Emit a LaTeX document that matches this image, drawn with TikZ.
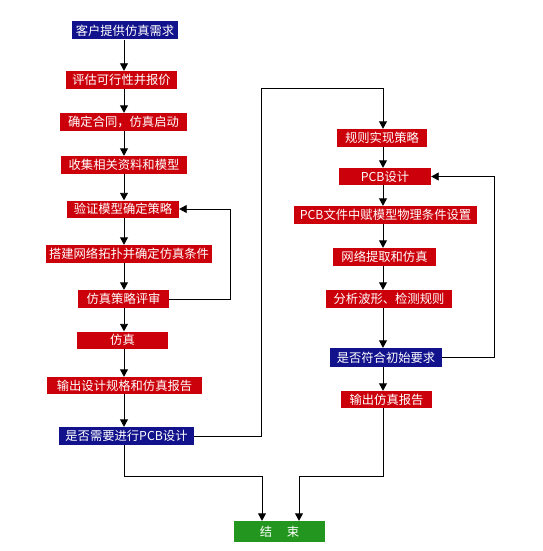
\documentclass[tikz,border=0pt]{standalone}
\usepackage{fontspec}
\setmainfont{Noto Sans CJK SC}
\usetikzlibrary{arrows.meta}
\definecolor{boxred}{RGB}{204,0,10}
\definecolor{boxblue}{RGB}{18,18,140}
\definecolor{boxgreen}{RGB}{34,150,30}
\tikzset{
  box/.style={draw=none, text=white, inner sep=0pt, minimum height=18pt, font=\fontsize{12.3}{13}\selectfont},
  redbox/.style={box, fill=boxred},
  bluebox/.style={box, fill=boxblue},
  greenbox/.style={box, fill=boxgreen},
  arr/.style={draw=black, line width=0.9pt, -{Triangle[width=8pt,length=7.5pt]}},
  ln/.style={draw=black, line width=0.9pt}
}
\begin{document}
\begin{tikzpicture}[x=1pt,y=-1pt]
\useasboundingbox[fill=white] (0,0) rectangle (542,551);
% left column
\node[bluebox, minimum width=106pt] (n1) at (125,30.5) {客户提供仿真需求};
\node[redbox, minimum width=111pt] (n2) at (121.5,80) {评估可行性并报价};
\node[redbox, minimum width=127pt] (n3) at (123.5,122) {确定合同，仿真启动};
\node[redbox, minimum width=126pt] (n4) at (124,165) {收集相关资料和模型};
\node[redbox, minimum width=112pt, minimum height=17pt] (n5) at (123,209) {验证模型确定策略};
\node[redbox, minimum width=166pt] (n6) at (129,254) {搭建网络拓扑并确定仿真条件};
\node[redbox, minimum width=91pt] (n7) at (123.5,299) {仿真策略评审};
\node[redbox, minimum width=91pt, minimum height=17pt] (n8) at (122.5,340) {仿真};
\node[redbox, minimum width=155pt, minimum height=17pt] (n9) at (124.5,385.5) {输出设计规格和仿真报告};
\node[bluebox, minimum width=135pt] (n10) at (126.5,436) {是否需要进行PCB设计};
% right column
\node[redbox, minimum width=90pt] (r1) at (382,138) {规则实现策略};
\node[redbox, minimum width=92pt, minimum height=17pt] (r2) at (385,176.5) {PCB设计};
\node[redbox, minimum width=183pt] (r3) at (385.5,215) {PCB文件中赋模型物理条件设置};
\node[redbox, minimum width=103pt] (r4) at (384.5,257) {网络提取和仿真};
\node[redbox, minimum width=126pt] (r5) at (389,299) {分析波形、检测规则};
\node[bluebox, minimum width=112pt, minimum height=19pt] (r6) at (386,357.5) {是否符合初始要求};
\node[redbox, minimum width=91pt, minimum height=17pt] (r7) at (386.5,399.5) {输出仿真报告};
% end
\node[greenbox, minimum width=91pt, minimum height=21pt] (e) at (279.5,531.5) {结\hspace{1.2em}束};
% helper coordinates
\coordinate (cl) at (124,0);
\coordinate (cr) at (383,0);
\coordinate (lpx) at (230,0);
\coordinate (tpx) at (261,88);
\coordinate (rpx) at (494,0);
\coordinate (bl) at (124,476);
\coordinate (br) at (383,476);
\coordinate (el) at (262,476);
\coordinate (er) at (299,476);
% left column arrows
\foreach \a/\b in {n1/n2,n2/n3,n3/n4,n4/n5,n5/n6,n6/n7,n7/n8,n8/n9,n9/n10}{
  \draw[arr] (\a.south -| cl) -- (\b.north -| cl);
}
% right column arrows
\foreach \a/\b in {r1/r2,r2/r3,r3/r4,r4/r5,r5/r6,r6/r7}{
  \draw[arr] (\a.south -| cr) -- (\b.north -| cr);
}
% left loop
\draw[arr] (n7.east) -- (n7.east -| lpx) -- (n5.east -| lpx) -- (n5.east);
% top connector
\draw[arr] (n10.east) -- (n10.east -| tpx) -- (tpx) -- (tpx -| cr) -- (r1.north -| cr);
% right loop
\draw[arr] (r6.east) -- (r6.east -| rpx) -- (r2.east -| rpx) -- (r2.east);
% to end
\draw[arr] (n10.south -| cl) -- (bl) -- (el) -- (e.north -| el);
\draw[arr] (r7.south -| cr) -- (br) -- (er) -- (e.north -| er);
\end{tikzpicture}
\end{document}
